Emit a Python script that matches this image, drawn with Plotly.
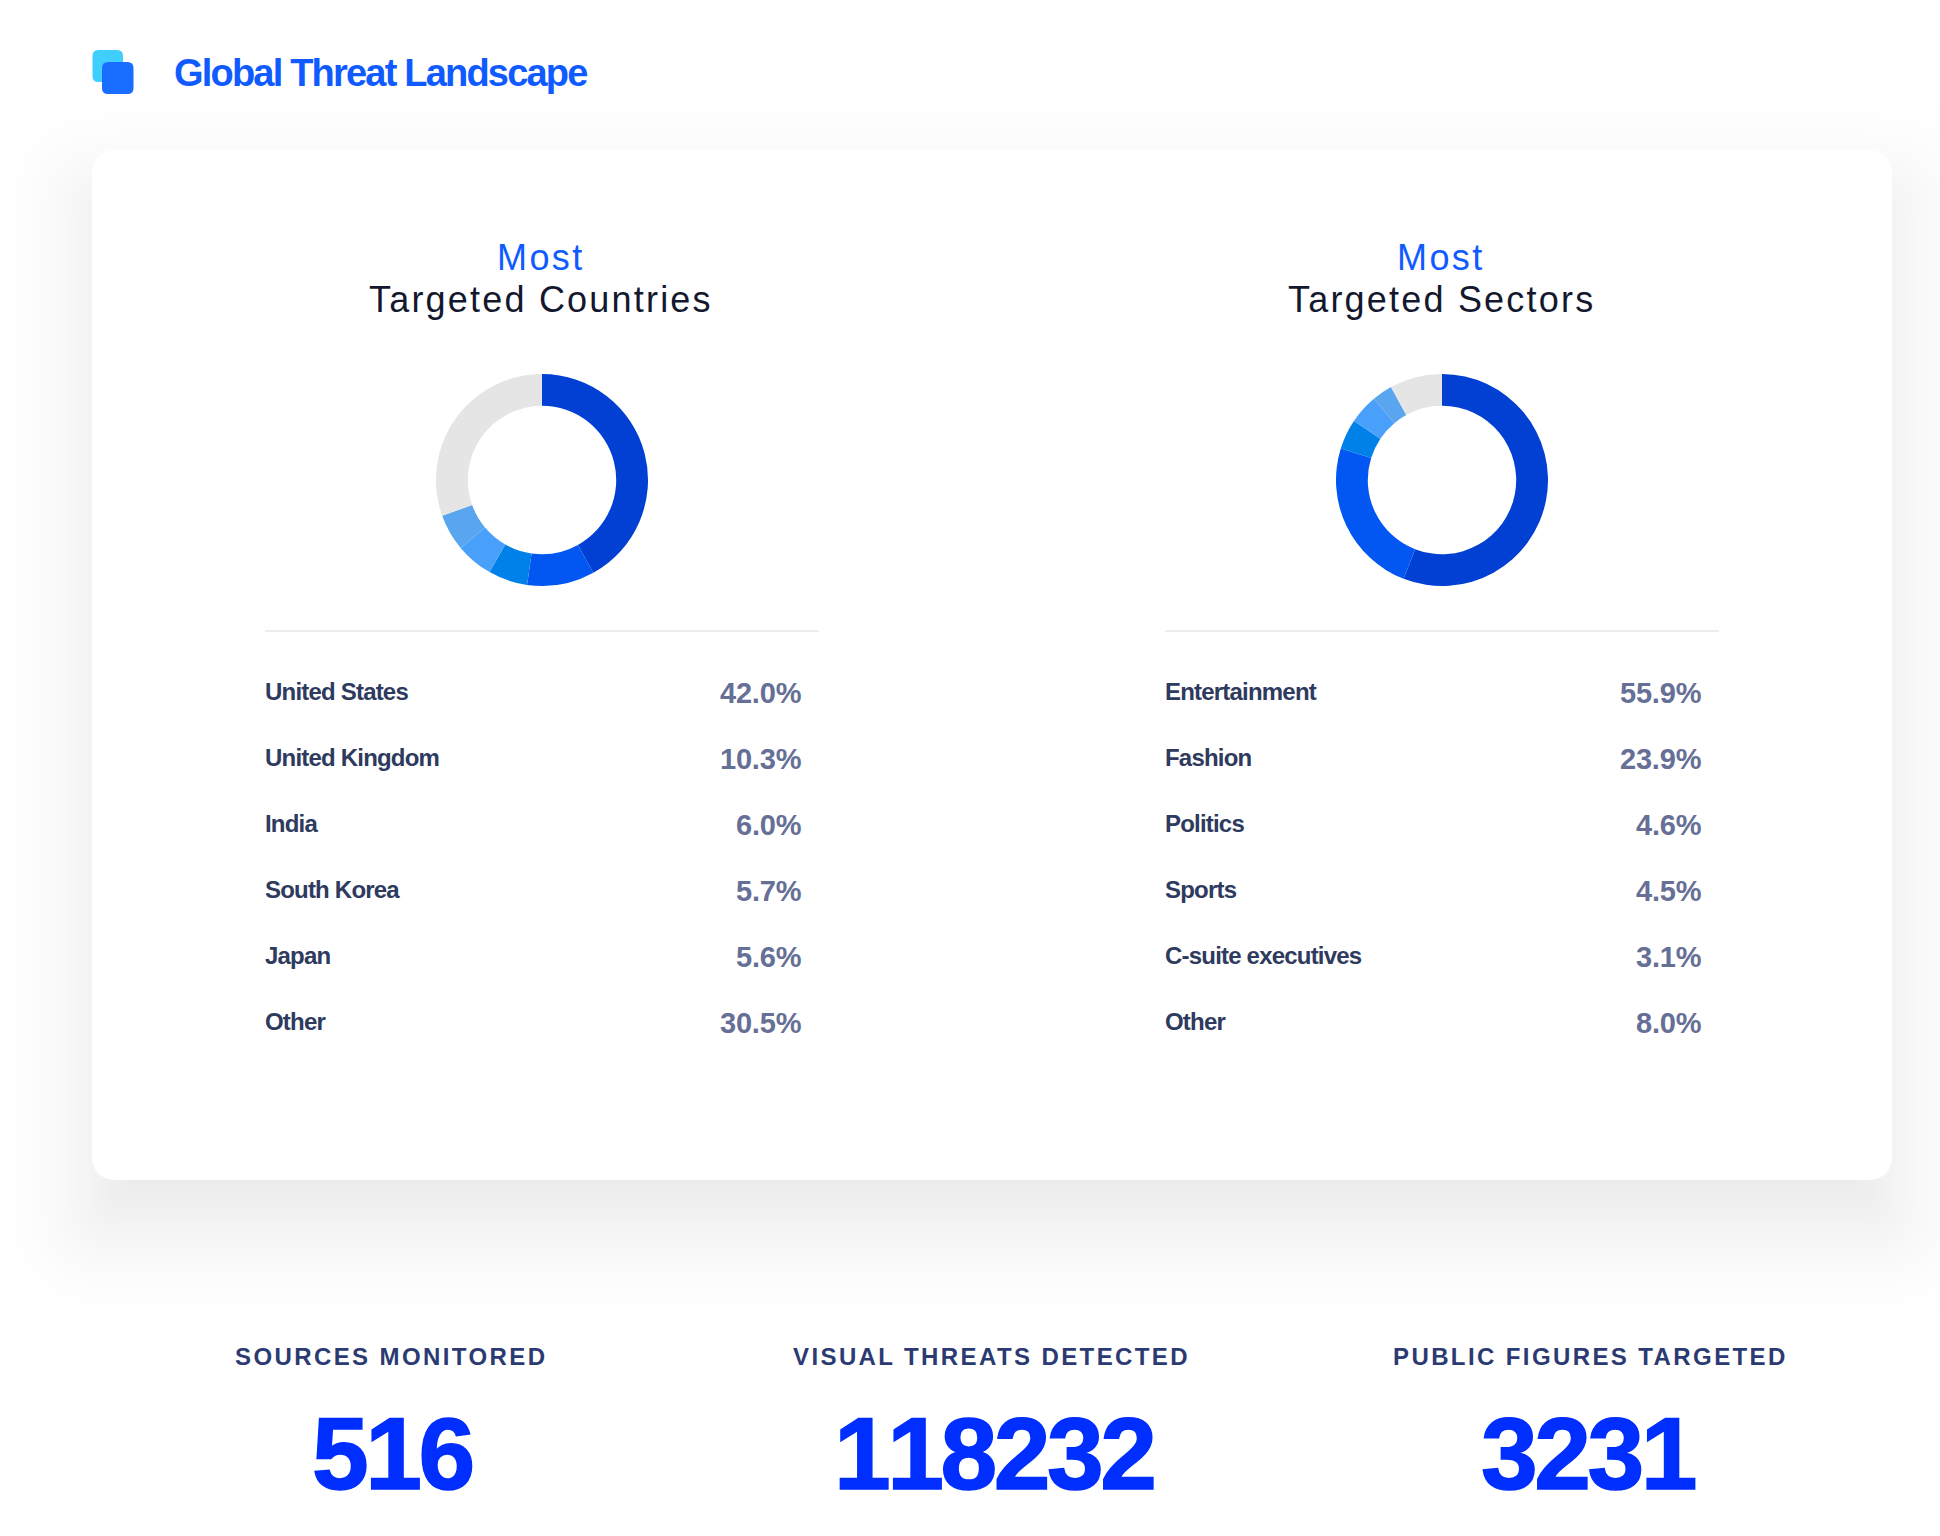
from statistics import NormalDist
import plotly.graph_objects as go

W = 1940
H = 1536

country_labels = ["United States", "United Kingdom", "India", "South Korea", "Japan", "Other"]
country_values = [42.0, 10.3, 6.0, 5.7, 5.6, 30.5]
sector_labels = ["Entertainment", "Fashion", "Politics", "Sports", "C-suite executives", "Other"]
sector_values = [55.9, 23.9, 4.6, 4.5, 3.1, 8.0]
slice_colors = ["#0240D3", "#0256F2", "#0080E9", "#48A0FA", "#5AA5F0", "#E5E5E5"]
panel_titles = ["Targeted Countries", "Targeted Sectors"]
kpi_labels = ["SOURCES MONITORED", "VISUAL THREATS DETECTED", "PUBLIC FIGURES TARGETED"]
kpi_values = ["516", "118232", "3231"]


def px(x):
    return x / W


def py(y):
    return 1 - y / H


def rounded_rect(x0, y0, x1, y1, r, color, opacity=1):
    path = (
        f"M {px(x0 + r)} {py(y0)} L {px(x1 - r)} {py(y0)} "
        f"Q {px(x1)} {py(y0)} {px(x1)} {py(y0 + r)} L {px(x1)} {py(y1 - r)} "
        f"Q {px(x1)} {py(y1)} {px(x1 - r)} {py(y1)} L {px(x0 + r)} {py(y1)} "
        f"Q {px(x0)} {py(y1)} {px(x0)} {py(y1 - r)} L {px(x0)} {py(y0 + r)} "
        f"Q {px(x0)} {py(y0)} {px(x0 + r)} {py(y0)} Z"
    )
    return dict(type="path", xref="paper", yref="paper", path=path, fillcolor=color,
                opacity=opacity, line_width=0, layer="below")


def label(x, y, text, size, color, anchor="left", bold=False, style=""):
    return dict(
        x=px(x), y=py(y), xref="paper", yref="paper", showarrow=False,
        xanchor=anchor, yanchor="middle",
        text=f'<span style="{style}">{text}</span>',
        font=dict(family="Liberation Sans", size=size, color=color,
                  weight=700 if bold else 400),
    )


shapes = []
# soft card shadow, stacked from very faint layers
layers = 24
for i in range(layers):
    grow = 50 * NormalDist().inv_cdf((i + 0.5) / layers)
    shapes.append(rounded_rect(92 - grow, 195 - grow, 1892 + grow, 1225 + grow,
                               max(25 + grow, 8), "#000000", 0.0042))
shapes.append(rounded_rect(92, 150, 1892, 1180, 25, "#FFFFFF"))
shapes.append(rounded_rect(92.5, 50, 123, 82, 6, "#3ECFFF"))
shapes.append(rounded_rect(102, 62, 133.5, 94, 6, "#1A6EFF"))

annotations = [label(172, 73, "Global Threat Landscape", 38, "#0F5BFF", bold=True,
                     style="letter-spacing:-1.8px")]

panels = [
    (542, 265, 803.5, panel_titles[0], country_labels, country_values),
    (1442, 1165, 1703.5, panel_titles[1], sector_labels, sector_values),
]

fig = go.Figure()
for cx, left, right, title, names, values in panels:
    fig.add_trace(go.Pie(
        labels=names, values=values, sort=False, direction="clockwise", rotation=0,
        hole=0.70, textinfo="none", showlegend=False,
        marker=dict(colors=slice_colors, line=dict(width=0)),
        domain=dict(x=[px(cx - 106), px(cx + 106)], y=[py(586), py(374)]),
    ))
    annotations.append(label(cx - 1, 257, "Most", 36, "#0F5BFF", "center", style="letter-spacing:2.4px"))
    annotations.append(label(cx - 1, 299, title, 36, "#14182E", "center", style="letter-spacing:2.2px"))
    shapes.append(dict(type="line", xref="paper", yref="paper", x0=px(left), x1=px(left + 554),
                       y0=py(631), y1=py(631), line=dict(color="#EDEDED", width=2), layer="below"))
    for row, (name, value) in enumerate(zip(names, values)):
        annotations.append(label(left - 2.5, 691.5 + 65.9 * row, name, 24, "#2E3A5E", bold=True,
                                 style="letter-spacing:-0.8px"))
        annotations.append(label(right, 693 + 65.9 * row, f"{value:.1f}%", 29, "#666F96", "right",
                                 bold=True, style="letter-spacing:-0.2px"))

for center, name in zip([390.5, 991.5, 1590.5], kpi_labels):
    annotations.append(label(center, 1356, name, 24, "#2B3A72", "center", bold=True,
                             style="letter-spacing:2.4px"))

for center, value in zip([392, 994, 1588], kpi_values):
    annotations.append(label(center, 1454, value, 102, "#002EFF", "center", bold=True,
                             style="letter-spacing:-3.5px;font-kerning:none;stroke:#002EFF;stroke-width:1.5px"))

fig.update_layout(
    width=W, height=H, autosize=False,
    margin=dict(l=0, r=0, t=0, b=0),
    paper_bgcolor="#FFFFFF", plot_bgcolor="#FFFFFF",
    shapes=shapes, annotations=annotations,
)

fig.write_html("out.html", config=dict(displayModeBar=False),
               post_script="document.body.style.margin = '0';")
